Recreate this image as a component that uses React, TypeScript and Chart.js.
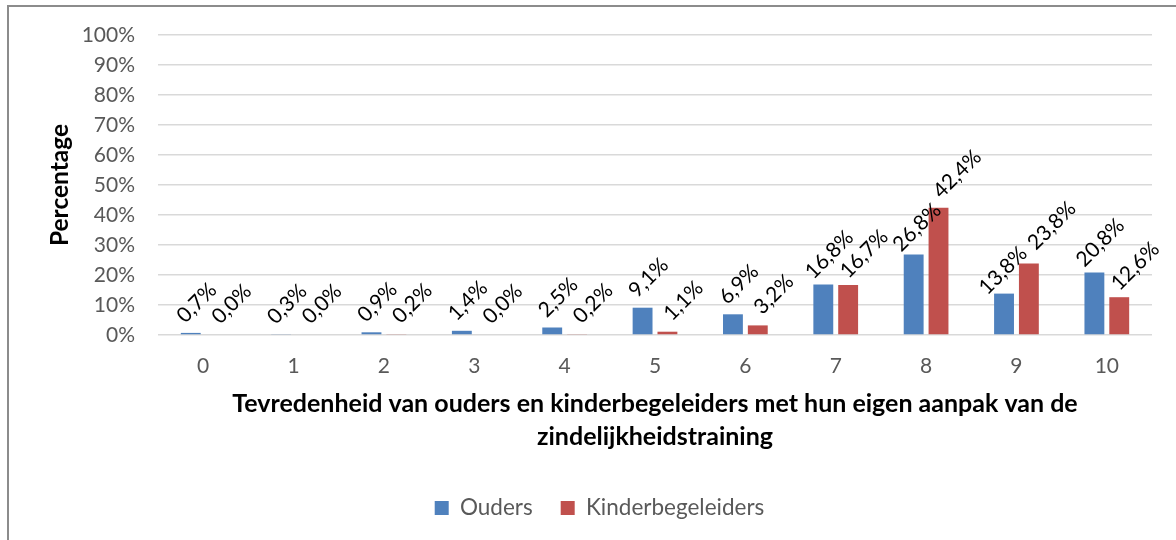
import React, { useEffect, useRef } from "react";
import { Chart, registerables } from "chart.js";

Chart.register(...registerables);

const categories = ["0", "1", "2", "3", "4", "5", "6", "7", "8", "9", "10"];
const ouders = [0.7, 0.3, 0.9, 1.4, 2.5, 9.1, 6.9, 16.8, 26.8, 13.8, 20.8];
const kinderbegeleiders = [0.0, 0.0, 0.2, 0.0, 0.2, 1.1, 3.2, 16.7, 42.4, 23.8, 12.6];
const seriesNames = ["Ouders", "Kinderbegeleiders"];
const seriesColors = ["#4F81BD", "#C0504D"];
const yMin = 0;
const yMax = 100;
const yStep = 10;
const xTitle = [
  "Tevredenheid van ouders en kinderbegeleiders met hun eigen aanpak van de",
  "zindelijkheidstraining",
];
const yTitle = "Percentage";

const FONT = "Lato, 'Open Sans', sans-serif";

const formatPct = (v: number) => v.toFixed(1).replace(".", ",") + "%";

// data labels rotated 45°, placed above each bar end; labels of the same
// category that would collide are pushed apart along the text direction
const rotatedLabels = {
  id: "rotatedLabels",
  afterDatasetsDraw(chart: any) {
    const ctx = chart.ctx;
    ctx.save();
    ctx.font = `21px ${FONT}`;
    ctx.fillStyle = "#000000";
    ctx.textAlign = "center";
    ctx.textBaseline = "middle";
    const offsets = [
      { dx: 6, dy: -30 },
      { dx: 16, dy: -31 },
    ];
    const R = Math.SQRT1_2;
    const n = chart.data.labels.length;
    for (let i = 0; i < n; i++) {
      const items: any[] = chart.data.datasets.map((ds: any, di: number) => {
        const el = chart.getDatasetMeta(di).data[i];
        const txt = formatPct(ds.data[i] as number);
        const o = offsets[di] || offsets[0];
        return { x: el.x + o.dx, y: el.y + o.dy, txt, w: ctx.measureText(txt).width };
      });
      for (let k = 0; k + 1 < items.length; k++) {
        const a = items[k];
        const b = items[k + 1];
        const ddx = b.x - a.x;
        const ddy = b.y - a.y;
        const along = (ddx - ddy) * R;
        const across = (ddx + ddy) * R;
        const need = (a.w + b.w) / 2 + 8;
        if (Math.abs(across) < 20 && along < need) {
          const d = (need - along) / 2;
          a.x -= d * R;
          a.y += d * R;
          b.x += d * R;
          b.y -= d * R;
        }
      }
      items.forEach((it) => {
        ctx.save();
        ctx.translate(it.x, it.y);
        ctx.rotate(-Math.PI / 4);
        ctx.fillText(it.txt, 0, 0);
        ctx.restore();
      });
    }
    ctx.restore();
  },
};

// centre the legend on the whole chart frame, as in the original
const legendCentre = {
  id: "legendCentre",
  afterLayout(chart: any) {
    const lg = chart.legend;
    if (lg) {
      lg.left = 0;
      lg.right = chart.width;
    }
  },
};

export default function App() {
  const canvasRef = useRef<HTMLCanvasElement | null>(null);

  useEffect(() => {
    if (!canvasRef.current) return;
    const chart = new Chart(canvasRef.current, {
      type: "bar",
      data: {
        labels: categories,
        datasets: [
          {
            label: seriesNames[0],
            data: ouders,
            backgroundColor: seriesColors[0],
            borderWidth: 0,
            categoryPercentage: 0.55,
            barPercentage: 0.8,
          },
          {
            label: seriesNames[1],
            data: kinderbegeleiders,
            backgroundColor: seriesColors[1],
            borderWidth: 0,
            categoryPercentage: 0.55,
            barPercentage: 0.8,
          },
        ],
      },
      options: {
        animation: false,
        responsive: true,
        maintainAspectRatio: false,
        layout: { padding: { top: 28, left: 0, right: 38, bottom: 20.75 } },
        plugins: {
          tooltip: { enabled: false },
          legend: {
            position: "bottom",
            labels: {
              boxWidth: 14,
              boxHeight: 14,
              padding: 28,
              color: "#595959",
              font: { size: 22.5, family: FONT },
            },
          },
        },
        scales: {
          x: {
            grid: { display: false, drawTicks: false },
            border: { display: false },
            ticks: {
              color: "#595959",
              font: { size: 21, family: FONT },
              padding: 19,
            },
            title: {
              display: true,
              text: xTitle,
              color: "#000000",
              font: { size: 25, weight: "bold", family: FONT, lineHeight: 1.32 },
              padding: { top: 0, bottom: 15.25 },
            },
            afterFit(scale: any) {
              scale.height = 133.75;
            },
          },
          y: {
            min: yMin,
            max: yMax,
            ticks: {
              stepSize: yStep,
              callback: (v: any) => v + "%",
              color: "#595959",
              font: { size: 21, family: FONT },
              padding: 23,
            },
            grid: { color: "#d9d9d9", lineWidth: 1.5, drawTicks: false },
            border: { display: false },
            title: {
              display: true,
              text: yTitle,
              color: "#000000",
              font: { size: 24.5, weight: "bold", family: FONT },
              padding: { top: 36, bottom: 0 },
            },
            afterFit(scale: any) {
              scale.width = 149;
              scale.paddingTop = 0;
              scale.paddingBottom = 0;
            },
          },
        },
      },
      plugins: [rotatedLabels, legendCentre],
    });
    return () => chart.destroy();
  }, []);

  return (
    <div
      style={{
        position: "fixed",
        left: 7,
        top: 5,
        width: 1169,
        height: 535,
        overflow: "hidden",
        background: "#ffffff",
      }}
    >
      <div
        style={{
          position: "relative",
          width: 1183,
          height: 545,
          borderLeft: "2px solid #8c8c8c",
          borderTop: "2px solid #8c8c8c",
          boxSizing: "border-box",
        }}
      >
        <div style={{ position: "absolute", left: 0, top: 0, width: 1181, height: 543 }}>
          <canvas ref={canvasRef} />
        </div>
      </div>
    </div>
  );
}
